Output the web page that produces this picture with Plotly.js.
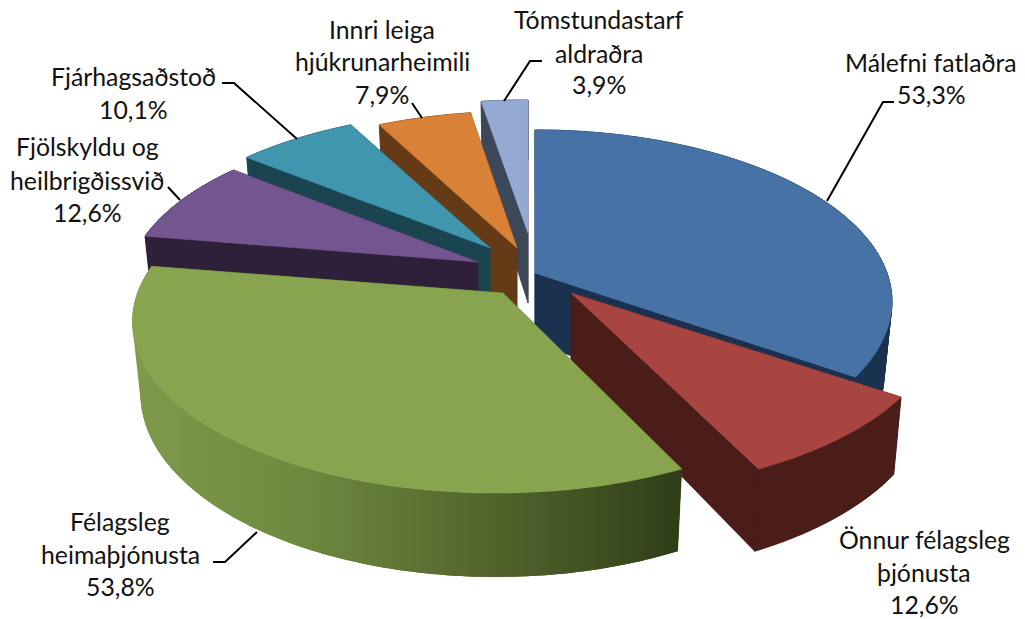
<!DOCTYPE html>
<html><head><meta charset="utf-8">
<script src="https://cdn.plot.ly/plotly-3.0.1.min.js"></script>
<style>html,body{margin:0;padding:0;background:#fff}#c{width:1025px;height:619px}</style>
</head><body><div id="c"></div>
<script>
// Data
const categories = ["Málefni fatlaðra","Önnur félagsleg þjónusta","Félagsleg heimaþjónusta","Fjölskyldu og heilbrigðissvið","Fjárhagsaðstoð","Innri leiga hjúkrunarheimili","Tómstundastarf aldraðra"];
const values = [53.3,12.6,53.8,12.6,10.1,7.9,3.9];
const labelLines = [["Málefni fatlaðra"],["Önnur félagsleg","þjónusta"],["Félagsleg","heimaþjónusta"],["Fjölskyldu og","heilbrigðissvið"],["Fjárhagsaðstoð"],["Innri leiga","hjúkrunarheimili"],["Tómstundastarf","aldraðra"]];
// Styles and layout
const topColors  = ["#4672a6","#a84541","#88a44f","#735690","#4096af","#da8138","#94aad2"];
const wallColors = ["#1b3150","#4a1d19","#3f5020","#2f2039","#1a4450","#653a17","#3c4759"];
const apexes  = [[535,273],[571,293],[503,293],[478,262],[490,248],[517,248],[528,233]];
const centers = [[535,273],[571,293],[496,293],[478,262],[490,248],[517,248],[528,233]];
const scales  = [[1,1],[1.03,1],[1.0186,1],[0.985,0.97],[0.98,0.955],[0.97,0.955],[0.98,0.93]];
const labelCx = [931,924,120,87,133,382,599];
const labelY  = [[62,94],[539,572,604],[521,554,586],[146,180,212],[76,109],[29,61,94],[19,53,84]];
const drawOrder = [0,1,6,5,4,3,2];
const RX=352, RY=166.8, K=0.166, DEPTH=70, SHRINK=0.978;
const leaders = [
 [[894,102],[883,102],[827,201]],
 [[222,83],[234,83],[297,139]],
 [[412,103],[422,118]],
 [[542,61],[530,61],[504,101]],
 [[168,187],[180,200]],
 [[213,562],[225,562],[257,532]]
];
const total = values.reduce((a,b)=>a+b,0);
function proj(i,deg,bottom){
  const t=deg*Math.PI/180, X=Math.sin(t), Y=Math.cos(t), den=1+K*Y;
  const dx=RX*X/den*scales[i][0], dy=-RY*Y/den*scales[i][1];
  const c=centers[i];
  if(!bottom) return [c[0]+dx,c[1]+dy];
  return [c[0]+dx*SHRINK,c[1]+dy+DEPTH/den];
}
function arc(i,a,b,bottom){const p=[];const n=Math.max(2,Math.ceil(b-a));for(let k=0;k<=n;k++)p.push(proj(i,a+(b-a)*k/n,bottom));return p;}
function poly(pts,color,grad){
  const t={type:'scatter',mode:'lines',x:pts.map(p=>p?p[0]:null),y:pts.map(p=>p?p[1]:null),fill:'toself',hoverinfo:'skip',showlegend:false,
    line:{color:color,width:grad?0:0.6,simplify:false},fillcolor:color};
  if(grad) t.fillgradient={type:'horizontal',colorscale:grad};
  return t;
}
function wallQuads(i,a,b){
  const pts=[];const n=Math.max(2,Math.ceil(b-a));
  for(let k=0;k<n;k++){
    const a0=a+(b-a)*k/n, a1=a+(b-a)*(k+1)/n;
    let q=[proj(i,a0,false),proj(i,a1,false),proj(i,a1,true),proj(i,a0,true)];
    let area=0;q.forEach((p,j)=>{const r=q[(j+1)%4];area+=p[0]*r[1]-r[0]*p[1];});
    if(area<0)q.reverse();
    pts.push(...q,q[0],null);
  }
  pts.pop();
  return pts;
}
let cum=[0];values.forEach(v=>cum.push(cum[cum.length-1]+v/total*360));
const greenGrad=[[0,'#7f9a4b'],[0.3,'#6f8a40'],[0.55,'#5b6f31'],[0.8,'#445524'],[1,'#2f3d17']];
const traces=[];
drawOrder.forEach(i=>{
  const a=cum[i],b=cum[i+1],c=apexes[i];
  const apexB=[c[0],c[1]+DEPTH];
  const g=i===2?greenGrad:null;
  traces.push(poly([c,proj(i,a,false),proj(i,a,true),apexB,c],wallColors[i]));
  traces.push(poly([c,proj(i,b,false),proj(i,b,true),apexB,c],wallColors[i]));
  traces.push(poly(wallQuads(i,a,b),wallColors[i],g));
  traces.push(poly(arc(i,a,b,false).concat(arc(i,a,b,true).reverse()),wallColors[i],g));
  traces.push(poly([c].concat(arc(i,a,b,false),[c]),topColors[i]));
});
leaders.forEach(l=>traces.push({type:'scatter',mode:'lines',x:l.map(p=>p[0]),y:l.map(p=>p[1]),hoverinfo:'skip',showlegend:false,line:{color:'#000',width:2}}));
const annotations=[];
values.forEach((v,i)=>{
  const lines=labelLines[i].concat([v.toFixed(1).replace('.',',')+'%']);
  lines.forEach((s,k)=>annotations.push({x:labelCx[i],y:labelY[i][k],xref:'x',yref:'y',text:s,showarrow:false,xanchor:'center',yanchor:'middle',font:{family:'Lato, Carlito, sans-serif',size:24.8,color:'#111'}}));
});
Plotly.newPlot('c',traces,{width:1025,height:619,margin:{l:0,r:0,t:0,b:0},paper_bgcolor:'#fff',plot_bgcolor:'#fff',showlegend:false,
  xaxis:{range:[0,1025],visible:false,fixedrange:true},yaxis:{range:[619,0],visible:false,fixedrange:true},annotations},{displayModeBar:false,staticPlot:true});
</script></body></html>
